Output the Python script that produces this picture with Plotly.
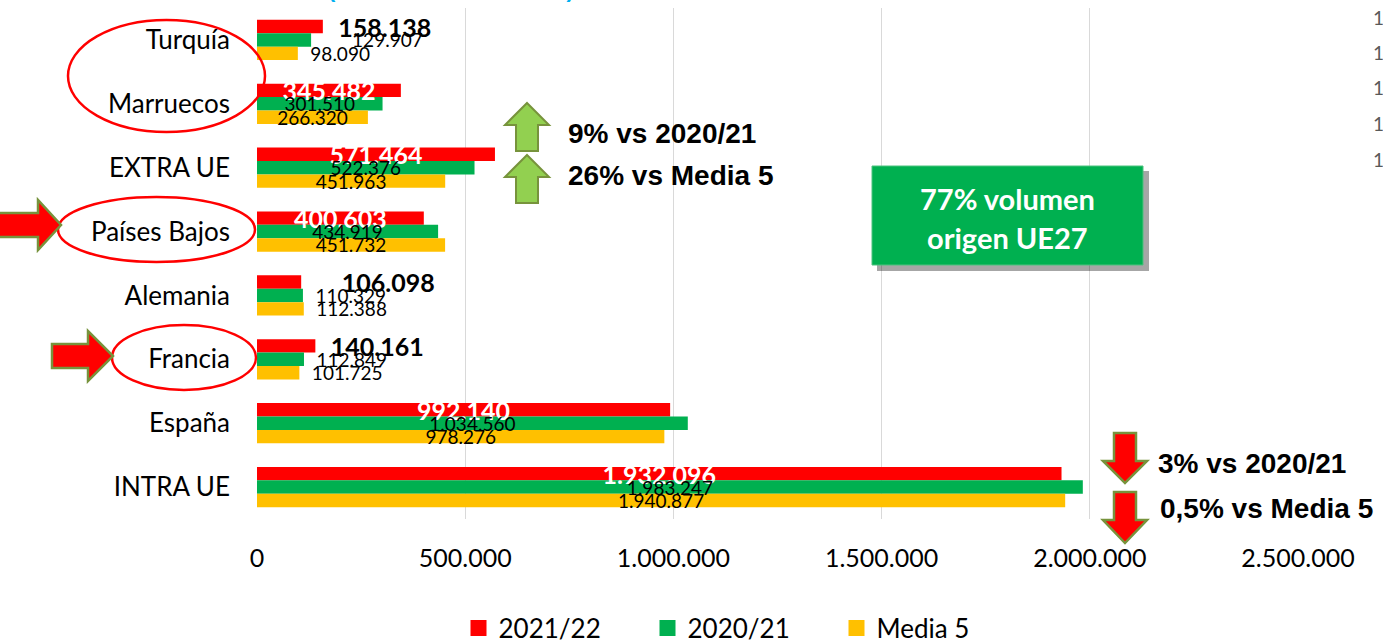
import plotly.graph_objects as go

# ---------------- data ----------------
categories = ["Turquía", "Marruecos", "EXTRA UE", "Países Bajos",
              "Alemania", "Francia", "España", "INTRA UE"]
v_2122 = [158138, 345482, 571464, 400603, 106098, 140161, 992140, 1932096]
v_2021 = [129907, 301510, 522376, 434919, 110329, 112849, 1034560, 1983247]
v_media5 = [98090, 266320, 451963, 451732, 112388, 101725, 978276, 1940877]
series_names = ["2021/22", "2020/21", "Media 5"]
x_ticks = [0, 500000, 1000000, 1500000, 2000000, 2500000]

# ---------------- styling ----------------
colors = ["#FF0000", "#00B050", "#FFC000"]
label_pos = ["outside", "inside", "inside", "inside", "outside", "outside", "inside", "inside"]
pad_counts = [
    [1, 0, 0, 0, 3, 1, 0, 0],
    [4, 0, 0, 0, 1, 1, 0, 0],
    [1, 0, 0, 0, 1, 1, 0, 0],
]

W, H = 1383, 644
L, R, T, B = 257, 1298, 8, 519


def fx(p):
    return (p - L) / (R - L)


def fy(p):
    return (B - p) / (B - T)


fig = go.Figure()
all_vals = [v_2122, v_2021, v_media5]

# bars (no text) on the base axis
for i, (name, vals) in enumerate(zip(series_names, all_vals)):
    fig.add_trace(go.Bar(
        y=categories, x=vals, orientation="h", name=name, showlegend=False,
        marker=dict(color=colors[i], line=dict(width=0)), hoverinfo="skip",
    ))

# transparent duplicate bars on an overlaid axis, carrying the value labels on top
for i, (name, vals) in enumerate(zip(series_names, all_vals)):
    tt = ["\u2002" * n + "%{x:,.0f}" for n in pad_counts[i]]
    if i == 0:
        inside_font = dict(family="Lato", size=25, color="white", weight="bold")
        outside_font = dict(family="Lato", size=25, color="black", weight="bold")
    else:
        inside_font = dict(family="Lato", size=19, color="black")
        outside_font = dict(family="Lato", size=19, color="black")
    fig.add_trace(go.Bar(
        y=categories, x=vals, orientation="h", name=name, showlegend=False,
        yaxis="y2",
        marker=dict(color="rgba(0,0,0,0)", line=dict(width=0)),
        texttemplate=tt, textposition=label_pos, textangle=0,
        constraintext="none", insidetextanchor="middle",
        insidetextfont=inside_font, outsidetextfont=outside_font,
        cliponaxis=False, hoverinfo="skip",
    ))

# legend entries
for i, name in enumerate(series_names):
    fig.add_trace(go.Scatter(
        x=[None], y=[None], mode="markers", name=name,
        marker=dict(symbol="square", size=16, color=colors[i]),
    ))

shapes = []


def poly(points, fill, line, width=2.5):
    path = "M " + " L ".join(f"{fx(x):.5f},{fy(y):.5f}" for x, y in points) + " Z"
    return dict(type="path", xref="paper", yref="paper", path=path,
                fillcolor=fill, line=dict(color=line, width=width), layer="above")


def right_arrow(x0, xh, x1, cy, sh, hh):
    return [(x0, cy - sh), (xh, cy - sh), (xh, cy - hh), (x1, cy),
            (xh, cy + hh), (xh, cy + sh), (x0, cy + sh)]


def up_arrow(cx, tip, base, bottom, sh, hh):
    return [(cx, tip), (cx + hh, base), (cx + sh, base), (cx + sh, bottom),
            (cx - sh, bottom), (cx - sh, base), (cx - hh, base)]


def down_arrow(cx, top, base, tip, sh, hh):
    return [(cx - sh, top), (cx + sh, top), (cx + sh, base), (cx + hh, base),
            (cx, tip), (cx - hh, base), (cx - sh, base)]


olive = "#77933C"
# ellipses
for (x0, y0, x1, y1) in [(68, 20, 265, 132), (58, 197, 255, 262), (112, 325, 256, 390)]:
    shapes.append(dict(type="circle", xref="paper", yref="paper",
                       x0=fx(x0), x1=fx(x1), y0=fy(y1), y1=fy(y0),
                       line=dict(color="#FF0000", width=2.5), layer="above"))
# right arrows
shapes.append(poly(right_arrow(-8, 38, 61, 225, 12, 25), "#FF0000", olive))
shapes.append(poly(right_arrow(52, 88, 113, 356, 12, 25), "#FF0000", olive))
# up arrows
shapes.append(poly(up_arrow(527, 103, 125, 151, 11, 22), "#92D050", olive, 2))
shapes.append(poly(up_arrow(527, 155, 177, 203, 11, 22), "#92D050", olive, 2))
# down arrows
shapes.append(poly(down_arrow(1125, 433, 461, 483, 11, 22), "#FF0000", olive, 2.5))
shapes.append(poly(down_arrow(1125, 492, 520, 543, 11, 22), "#FF0000", olive, 2.5))
# green box with shadow
shapes.append(dict(type="rect", xref="paper", yref="paper",
                   x0=fx(877), x1=fx(1149), y0=fy(271), y1=fy(171),
                   fillcolor="rgba(0,0,0,0.35)", line=dict(width=0), layer="above"))
shapes.append(dict(type="rect", xref="paper", yref="paper",
                   x0=fx(872), x1=fx(1143), y0=fy(265), y1=fy(166),
                   fillcolor="#00B050", line=dict(color="#4CC27F", width=1), layer="above"))

annotations = []


def ann(text, x, y, size, color="black", family="Liberation Sans", bold=True,
        xanchor="left", yanchor="middle"):
    annotations.append(dict(
        text=text, x=fx(x), y=fy(y), xref="paper", yref="paper",
        xanchor=xanchor, yanchor=yanchor, showarrow=False,
        font=dict(family=family, size=size, color=color,
                  weight="bold" if bold else "normal")))


ann("9% vs 2020/21", 566, 133, 28)
ann("26% vs Media 5", 566, 175, 28)
ann("3% vs 2020/21", 1156, 463, 28)
ann("0,5% vs Media 5", 1158, 508, 28)
ann("77% volumen", 1007, 198, 29, color="white", family="Lato", xanchor="center")
ann("origen UE27", 1007, 237, 29, color="white", family="Lato", xanchor="center")
# cut-off title fragment
ann("(volumen en toneladas)", 451, 4, 22, color="#00B0F0", family="Liberation Sans",
    xanchor="center", yanchor="bottom")
# cut-off labels of neighbouring chart
for yy in [17, 52, 87, 123, 159]:
    ann("1", 1371, yy, 19, color="#595959", family="Lato", bold=False)

fig.update_layout(
    width=W, height=H,
    margin=dict(l=L, r=W - R, t=T, b=H - B, autoexpand=False),
    paper_bgcolor="white", plot_bgcolor="white",
    barmode="group", bargap=0.37, bargroupgap=0,
    separators=",.",
    font=dict(family="Lato", color="black"),
    showlegend=True,
    legend=dict(orientation="h", x=fx(742), xanchor="center", y=fy(628), yanchor="middle",
                font=dict(family="Lato", size=26, color="black"),
                entrywidth=144, entrywidthmode="pixels", traceorder="normal",
                itemsizing="trace"),
    xaxis=dict(range=[0, 2500000], tickvals=x_ticks, tickformat=",.0f",
               showgrid=True, gridcolor="#D9D9D9", gridwidth=1.3,
               zeroline=False, showline=False, ticks="",
               tickfont=dict(family="Lato", size=25, color="black"),
               ticklabelstandoff=22, automargin=False, fixedrange=True),
    yaxis=dict(categoryorder="array", categoryarray=categories, autorange="reversed",
               showgrid=False, zeroline=False, showline=False, ticks="",
               tickfont=dict(family="Lato", size=26, color="black"),
               ticklabelstandoff=26, automargin=False, fixedrange=True),
    yaxis2=dict(overlaying="y", categoryorder="array", categoryarray=categories,
                autorange="reversed", visible=False, showgrid=False, zeroline=False,
                fixedrange=True),
    shapes=shapes, annotations=annotations,
)

fig.write_html("out.html", config={"displayModeBar": False},
               post_script="document.body.style.margin='0';")
